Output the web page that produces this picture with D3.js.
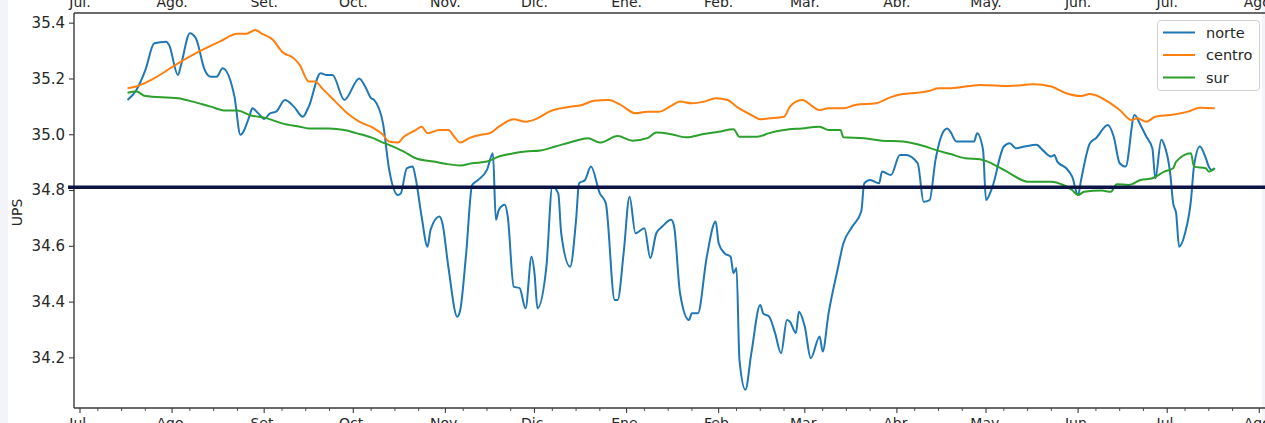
<!DOCTYPE html>
<html><head><meta charset="utf-8">
<script src="https://cdn.jsdelivr.net/npm/d3@7"></script>
<style>
html,body{margin:0;padding:0;background:#f2f4f9;}
svg{display:block;}
text{font-family:"DejaVu Sans",sans-serif;fill:#262626;}
</style></head><body>
<svg id="c" width="1265" height="423"></svg>
<script>
// ---- data (day offset from 2019-07-01, value) ----
const startDate = "2019-07-01";
const monthLabels = ["Jul.","Ago.","Set.","Oct.","Nov.","Dic.","Ene.","Feb.","Mar.","Abr.","May.","Jun.","Jul.","Ago."];
const yTicks = [34.2,34.4,34.6,34.8,35.0,35.2,35.4];
const seriesNames = ["norte","centro","sur"];
const threshold = 34.81;

const norte = [[16,35.123],[19,35.159],[22,35.23],[25,35.326],[29,35.332],[30,35.32],[33,35.212],[34,35.248],[37,35.362],[39,35.344],
[42,35.23],[44,35.206],[46,35.206],[48,35.237],[52,35.135],[54,34.998],[57,35.063],[58,35.093],[60,35.075],[62,35.055],
[64,35.075],[66,35.081],[69,35.123],[72,35.099],[75,35.063],[77,35.099],[81,35.219],[83,35.212],[85,35.212],[89,35.123],
[94,35.2],[96,35.171],[98,35.129],[99,35.123],[102,35.039],[104,34.878],[107,34.782],[108,34.788],[110,34.878],[112,34.884],
[113,34.842],[115,34.705],[117,34.597],[118,34.657],[121,34.705],[122,34.681],[124,34.525],[127,34.346],[128,34.37],[130,34.573],
[132,34.818],[134,34.836],[137,34.872],[139,34.932],[140,34.693],[141,34.729],[143,34.747],[144,34.705],[146,34.454],[148,34.448],
[150,34.376],[152,34.561],[153,34.502],[154,34.376],[157,34.525],[159,34.812],[161,34.788],[162,34.645],[165,34.525],[167,34.693],
[168,34.824],[170,34.836],[172,34.884],[175,34.788],[177,34.753],[180,34.406],[181,34.406],[183,34.573],[185,34.776],[187,34.645],
[190,34.663],[192,34.556],[194,34.645],[196,34.669],[199,34.693],[200,34.669],[202,34.43],[205,34.334],[206,34.358],[208,34.358],
[211,34.561],[214,34.687],[215,34.609],[217,34.573],[219,34.561],[220,34.502],[221,34.52],[222,34.191],[224,34.084],[226,34.215],
[229,34.388],[230,34.358],[232,34.346],[234,34.287],[236,34.215],[238,34.334],[239,34.328],[241,34.287],[242,34.364],[244,34.31],
[246,34.197],[249,34.275],[250,34.221],[252,34.358],[255,34.513],[257,34.609],[260,34.669],[263,34.723],[264,34.824],[266,34.836],
[269,34.824],[270,34.866],[273,34.854],[276,34.926],[278,34.926],[282,34.896],[284,34.758],[286,34.764],[288,34.908],[291,35.015],
[292,35.021],[293,35.009],[295,34.974],[297,34.974],[301,34.974],[302,35.004],[304,34.944],[305,34.764],[307,34.806],[311,34.956],
[313,34.968],[315,34.95],[318,34.956],[322,34.962],[324,34.944],[327,34.92],[328,34.926],[329,34.902],[332,34.878],[334,34.848],
[336,34.782],[337,34.836],[340,34.968],[342,34.986],[346,35.033],[348,34.991],[350,34.896],[352,34.884],[355,35.069],[357,35.033],
[359,34.991],[361,34.95],[362,34.842],[364,34.98],[365,34.962],[367,34.86],[368,34.753],[369,34.717],[370,34.597],[372,34.645],
[374,34.764],[375,34.884],[377,34.956],[379,34.914],[380,34.884],[381,34.872],[382,34.878]];

const centro = [[16,35.165],[19,35.171],[24,35.195],[33,35.254],[40,35.296],[47,35.332],[53,35.36],[56,35.36],[59,35.374],[61,35.362],
[65,35.338],[68,35.296],[72,35.272],[74,35.248],[77,35.189],[79,35.189],[82,35.159],[86,35.117],[90,35.075],[94,35.045],
[99,35.021],[102,34.998],[104,34.974],[107,34.97],[109,34.991],[113,35.015],[115,35.027],[117,35.004],[121,35.015],[124,35.015],
[126,34.991],[128,34.97],[131,34.986],[135,34.998],[138,35.004],[141,35.027],[146,35.054],[150,35.045],[154,35.057],[158,35.081],
[164,35.097],[169,35.105],[173,35.12],[178,35.123],[182,35.105],[187,35.075],[191,35.081],[195,35.081],[199,35.102],[202,35.117],
[206,35.111],[210,35.117],[214,35.129],[218,35.123],[221,35.099],[226,35.069],[229,35.054],[232,35.057],[237,35.063],[239,35.099],
[243,35.123],[249,35.087],[252,35.093],[257,35.093],[261,35.105],[268,35.111],[273,35.133],[277,35.144],[282,35.149],[286,35.156],
[289,35.165],[293,35.165],[303,35.177],[313,35.173],[321,35.179],[327,35.171],[332,35.147],[337,35.137],[340,35.144],[346,35.117],
[350,35.087],[354,35.051],[356,35.057],[359,35.045],[362,35.063],[367,35.069],[373,35.081],[377,35.095],[382,35.093]];

const sur = [[16,35.149],[19,35.153],[22,35.137],[33,35.129],[38,35.117],[44,35.099],[49,35.085],[53,35.085],[57,35.069],[63,35.057],
[68,35.039],[74,35.027],[77,35.021],[84,35.021],[89,35.015],[93,35.004],[98,34.989],[102,34.97],[104,34.962],[109,34.938],
[113,34.914],[119,34.902],[123,34.894],[128,34.888],[132,34.896],[137,34.902],[141,34.92],[146,34.932],[150,34.938],[155,34.942],
[160,34.956],[166,34.974],[171,34.986],[175,34.97],[181,34.994],[186,34.977],[191,34.986],[194,35.006],[199,35.0],[204,34.989],
[210,35.001],[215,35.009],[220,35.018],[222,34.991],[228,34.991],[232,35.004],[237,35.015],[243,35.021],[249,35.027],[252,35.015],
[256,35.015],[257,34.989],[264,34.986],[270,34.977],[277,34.974],[284,34.958],[288,34.944],[293,34.929],[298,34.914],[303,34.91],
[309,34.884],[313,34.86],[319,34.83],[327,34.83],[331,34.818],[334,34.8],[336,34.782],[338,34.794],[344,34.798],[347,34.794],
[349,34.821],[353,34.818],[357,34.836],[361,34.842],[365,34.866],[368,34.878],[369,34.902],[374,34.932],[375,34.884],[379,34.878],
[380,34.866],[382,34.878]];

const colors = ["#1f77b4","#ff7f0e","#2ca02c"];

// ---- drawing ----
const svg = d3.select("#c");
const W = 1265, H = 423;
const plotL = 74, plotT = 13, plotB = 408;
const t0 = new Date(startDate + "T00:00:00Z");
const day = n => d3.utcDay.offset(t0, n);

svg.append("rect").attr("x",8).attr("y",0).attr("width",1254).attr("height",H).attr("fill","#ffffff");

const x = d3.scaleUtc().domain([t0, new Date("2020-08-01T00:00:00Z")]).range([80, 1259.3]);
const y = d3.scaleLinear().domain([34.0185, 35.4347]).range([plotB, plotT]);

// month ticks
const months = d3.utcMonth.range(t0, new Date("2020-08-02T00:00:00Z"));
const minor = [];
months.forEach(m => { [7,15,23].forEach(dd => { const d = new Date(Date.UTC(m.getUTCFullYear(), m.getUTCMonth(), dd)); if (x(d) < W) minor.push(d); }); });

// bottom axis
const xb = svg.append("g").attr("transform",`translate(0,${plotB})`);
xb.append("line").attr("x1",plotL).attr("x2",W).attr("y1",0).attr("y2",0).attr("stroke","#3a3a3a").attr("stroke-width",1.4);
xb.selectAll(".mj").data(months).join("line").attr("x1",d=>x(d)).attr("x2",d=>x(d)).attr("y1",0).attr("y2",5).attr("stroke","#3a3a3a").attr("stroke-width",1.1);
xb.selectAll(".mn").data(minor).join("line").attr("x1",d=>x(d)).attr("x2",d=>x(d)).attr("y1",0).attr("y2",3).attr("stroke","#3a3a3a").attr("stroke-width",0.9);
xb.selectAll("text").data(months).join("text").attr("x",d=>x(d)).attr("y",10).attr("dominant-baseline","hanging").attr("text-anchor","middle").attr("font-size",14).text((d,i)=>monthLabels[i]);

// top axis
svg.append("line").attr("x1",plotL).attr("x2",W).attr("y1",plotT).attr("y2",plotT).attr("stroke","#3a3a3a").attr("stroke-width",1.4);
svg.append("g").selectAll("text").data(months).join("text").attr("x",d=>x(d)).attr("y",7).attr("text-anchor","middle").attr("font-size",14).text((d,i)=>monthLabels[i]);

// left axis
const ya = svg.append("g").attr("transform",`translate(${plotL},0)`)
  .call(d3.axisLeft(y).tickValues(yTicks).tickFormat(d3.format(".1f")).tickSize(5).tickPadding(4));
ya.select(".domain").attr("stroke","#3a3a3a").attr("stroke-width",1.4).attr("d",`M0,${plotT}V${plotB}`);
ya.selectAll(".tick line").attr("stroke","#3a3a3a").attr("stroke-width",1.1);
ya.selectAll(".tick text").attr("font-size",15).attr("font-family","DejaVu Sans").attr("fill","#262626");

svg.append("text").attr("transform",`translate(22,${(plotT+plotB)/2+2}) rotate(-90)`).attr("text-anchor","middle").attr("font-size",14).text("UPS");

// series
const line = d3.line().x(d=>x(day(d[0]))).y(d=>y(d[1])).curve(d3.curveMonotoneX);
[norte, centro, sur].forEach((s,i)=>{
  svg.append("path").datum(s).attr("d",line).attr("fill","none").attr("stroke",colors[i]).attr("stroke-width",2).attr("stroke-linejoin","round");
});

// threshold
svg.append("line").attr("x1",68).attr("x2",W).attr("y1",y(threshold)).attr("y2",y(threshold)).attr("stroke","#0b1445").attr("stroke-width",3.6);

// legend
const lg = svg.append("g");
lg.append("rect").attr("x",1157.5).attr("y",20.5).attr("width",102).attr("height",70).attr("rx",3).attr("fill","#ffffff").attr("fill-opacity",0.85).attr("stroke","#d0d0d0");
seriesNames.forEach((n,i)=>{
  const yy = 32.5 + i*22.5;
  lg.append("line").attr("x1",1163).attr("x2",1195).attr("y1",yy).attr("y2",yy).attr("stroke",colors[i]).attr("stroke-width",2);
  lg.append("text").attr("x",1206).attr("y",yy).attr("dominant-baseline","central").attr("font-size",14.5).text(n);
});
</script>
</body></html>
